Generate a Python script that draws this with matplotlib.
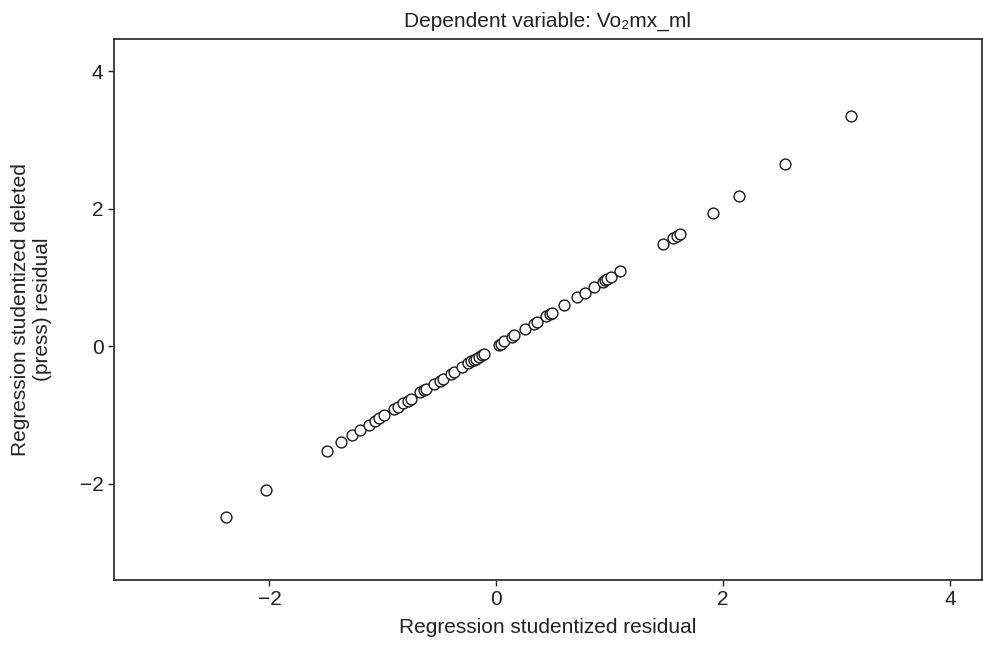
import matplotlib
matplotlib.use("Agg")
import matplotlib.pyplot as plt

# Data
studentized_residual = [
    -2.38, -2.03, -1.49, -1.37, -1.27, -1.20, -1.12, -1.07, -1.03, -0.99,
    -0.90, -0.87, -0.82, -0.78, -0.75, -0.67, -0.64, -0.62, -0.55, -0.50,
    -0.47, -0.40, -0.37, -0.30, -0.25, -0.22, -0.20, -0.18, -0.15, -0.13,
    -0.11, 0.02, 0.04, 0.07, 0.14, 0.16, 0.25, 0.33, 0.36, 0.44,
    0.47, 0.49, 0.60, 0.71, 0.78, 0.86, 0.94, 0.96, 0.98, 1.01,
    1.09, 1.47, 1.56, 1.59, 1.62, 1.91, 2.14, 2.55, 3.13,
]
deleted_residual = [
    -2.48, -2.09, -1.52, -1.39, -1.29, -1.22, -1.14, -1.08, -1.04, -1.00,
    -0.91, -0.88, -0.83, -0.79, -0.76, -0.67, -0.64, -0.62, -0.55, -0.50,
    -0.47, -0.40, -0.37, -0.30, -0.25, -0.22, -0.20, -0.18, -0.15, -0.13,
    -0.11, 0.02, 0.04, 0.07, 0.14, 0.16, 0.25, 0.33, 0.36, 0.44,
    0.47, 0.49, 0.60, 0.71, 0.78, 0.86, 0.94, 0.96, 0.98, 1.01,
    1.09, 1.49, 1.57, 1.60, 1.63, 1.94, 2.18, 2.65, 3.35,
]
x_ticks = [-2, 0, 2, 4]
y_ticks = [-2, 0, 2, 4]

title = "Dependent variable: Vo\u2082mx_ml"
x_label = "Regression studentized residual"
y_label = "Regression studentized deleted\n(press) residual"

fam = ["Liberation Sans Narrow", "Liberation Sans", "DejaVu Sans"]
plt.rcParams["font.family"] = fam

fig = plt.figure(figsize=(9.83, 6.47), dpi=100)
ax = fig.add_axes([0.116, 0.1036, 0.8827, 0.8361])

ax.plot(studentized_residual, deleted_residual, linestyle="none", marker="o",
        markersize=7.8, markerfacecolor="white", markeredgecolor="#1a1a1a",
        markeredgewidth=1.0)

ax.set_xlim(-3.37, 4.28)
ax.set_ylim(-3.40, 4.47)
ax.set_xticks(x_ticks)
ax.set_yticks(y_ticks)
ax.set_xticklabels(["\u2212" + str(abs(v)) if v < 0 else str(v) for v in x_ticks])
ax.set_yticklabels(["\u2212" + str(abs(v)) if v < 0 else str(v) for v in y_ticks])
ax.tick_params(direction="out", length=4.5, width=1.0, labelsize=15,
               colors="#222222", pad=3)
for s in ax.spines.values():
    s.set_linewidth(1.2)
    s.set_color("#222222")

ax.set_title(title, fontsize=15, color="#222222", pad=9)
ax.set_xlabel(x_label, fontsize=15, color="#222222", labelpad=6)
ax.set_ylabel(y_label, fontsize=15, color="#222222", labelpad=20)

fig.savefig("out.png", dpi=100, facecolor="white")
